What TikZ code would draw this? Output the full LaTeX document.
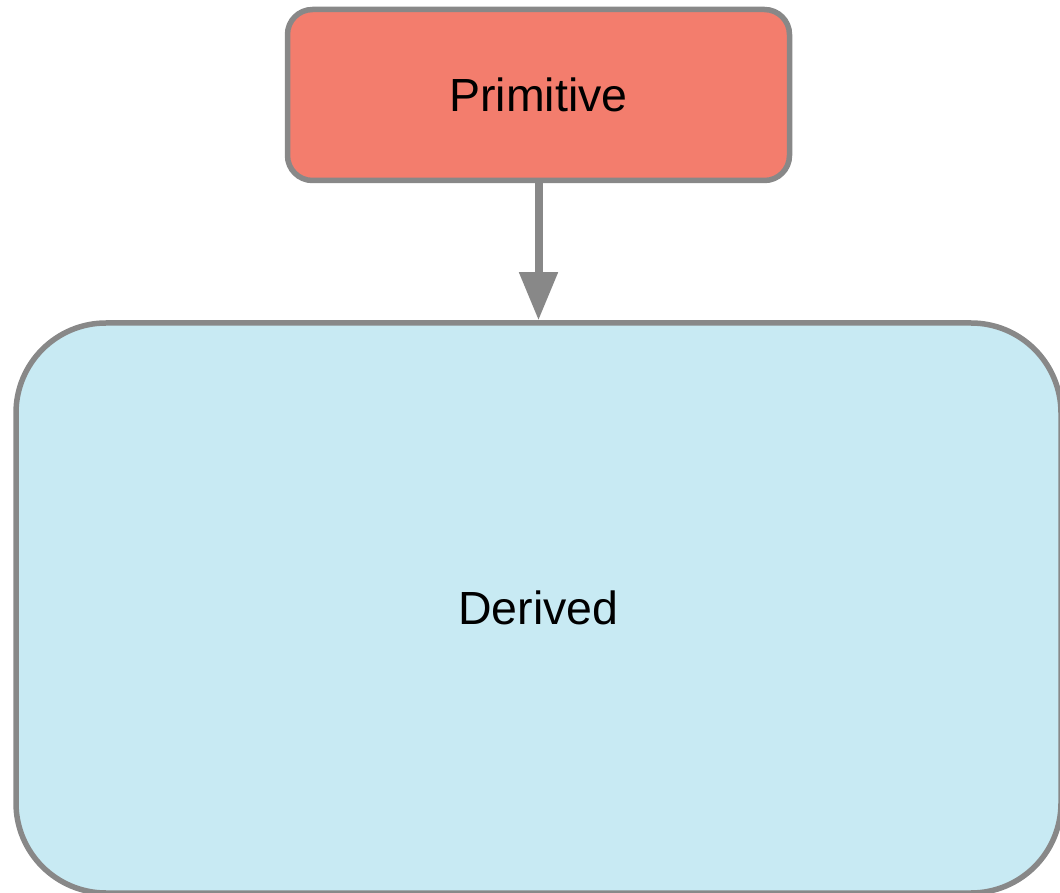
\documentclass[tikz,border=0pt]{standalone}
\usepackage{fontspec}
\setmainfont{Liberation Sans}
\usetikzlibrary{arrows.meta,positioning}
\usepackage{xcolor}
\definecolor{primfill}{HTML}{F37D6D}
\definecolor{derivfill}{HTML}{C8EAF3}
\definecolor{ink}{HTML}{888888}
\tikzset{
  every node/.style={font=\fontsize{46.5}{52}\selectfont,text=black},
  box/.style={draw=ink,line width=5.5pt,align=center,inner sep=0pt},
  primbox/.style={box,fill=primfill,rounded corners=25pt,minimum width=502pt,minimum height=171pt},
  derivbox/.style={box,fill=derivfill,rounded corners=90pt,minimum width=1045pt,minimum height=570pt},
  arrow/.style={-{Triangle[length=48pt,width=37pt]},line width=8pt,draw=ink},
}

\begin{document}
\begin{tikzpicture}[x=1pt,y=1pt]
\clip (0,0) rectangle (1060,892);

% boxes
\node[primbox] (primitive) at (538.5,797) {Primitive};
\node[derivbox,below=137pt of primitive] (derived) {Derived};

% arrows
\draw[arrow] (primitive.south) -- (derived.north);

\end{tikzpicture}
\end{document}
